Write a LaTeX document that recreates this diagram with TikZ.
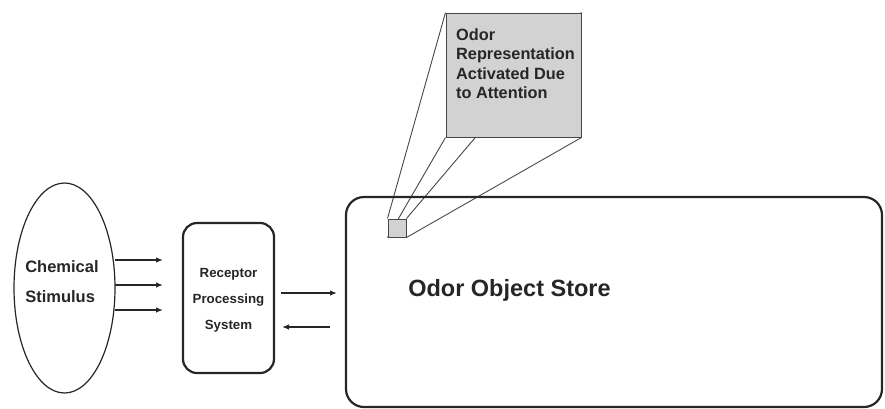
\documentclass[tikz,border=0pt]{standalone}
\usepackage{fontspec}
\setmainfont{Liberation Sans}
\usetikzlibrary{shapes.geometric,arrows.meta,backgrounds}
\begin{document}
\begin{tikzpicture}[x=1pt,y=-1pt,
  arr/.style={-{Latex[length=7pt,width=5.5pt]}, line width=1.3pt, black!85},
  boxline/.style={draw=black!85, line width=2.2pt},
  zoomline/.style={draw=gray!55!black, line width=0.9pt},
  zoomfill/.style={draw=gray!55!black, fill=gray!35, line width=1pt, inner sep=0pt},
  lbl/.style={text=black!85, inner sep=0pt}]
\useasboundingbox (0,0) rectangle (885,408);
% chemical stimulus
\node[draw=black!85, ellipse, line width=1.2pt, minimum width=101, minimum height=210, inner sep=0pt] (stim) at (64.5,288) {};
\node[lbl, font=\bfseries\fontsize{16.5}{30}\selectfont, align=left] (stimt) at (62,282) {Chemical\\Stimulus};
% receptor
\node[boxline, rounded corners=14pt, minimum width=91, minimum height=150] (rec) at (228.5,298) {};
\node[lbl, font=\bfseries\fontsize{13.3}{26}\selectfont, align=center] (rect) at (228.5,300) {Receptor\\Processing\\System};
% store
\node[boxline, rounded corners=18pt, minimum width=536, minimum height=210] (store) at (614,302) {};
\node[lbl, font=\bfseries\fontsize{23.5}{28}\selectfont] (storet) at (509.5,290) {Odor Object Store};
% zoom box
\node[zoomfill, minimum width=135, minimum height=124] (g) at (513.5,75) {};
\node[zoomfill, minimum size=18] (sq) at (397,228) {};
\begin{scope}[on background layer]
\draw[zoomline] (g.north west) -- (sq.north west);
\draw[zoomline] (g.north east) -- (sq.north east);
\draw[zoomline] (g.south west) -- (sq.south west);
\draw[zoomline] (g.south east) -- (sq.south east);
\end{scope}
\node[lbl, anchor=north west, align=left, font=\bfseries\fontsize{16.3}{19.5}\selectfont] (gt) at (456,28) {Odor\\Representation\\Activated Due\\to Attention};
% arrows stimulus -> receptor
\coordinate (s1) at (115,260); \coordinate (e1) at (163,260);
\coordinate (s2) at (115,285); \coordinate (e2) at (163,285);
\coordinate (s3) at (115,310); \coordinate (e3) at (163,310);
\draw[arr] (s1) -- (e1);
\draw[arr] (s2) -- (e2);
\draw[arr] (s3) -- (e3);
% receptor <-> store
\coordinate (r1) at (281,293); \coordinate (t1) at (337,293);
\coordinate (r2) at (282,327); \coordinate (t2) at (330,327);
\draw[arr] (r1) -- (t1);
\draw[arr] (t2) -- (r2);
\end{tikzpicture}
\end{document}
